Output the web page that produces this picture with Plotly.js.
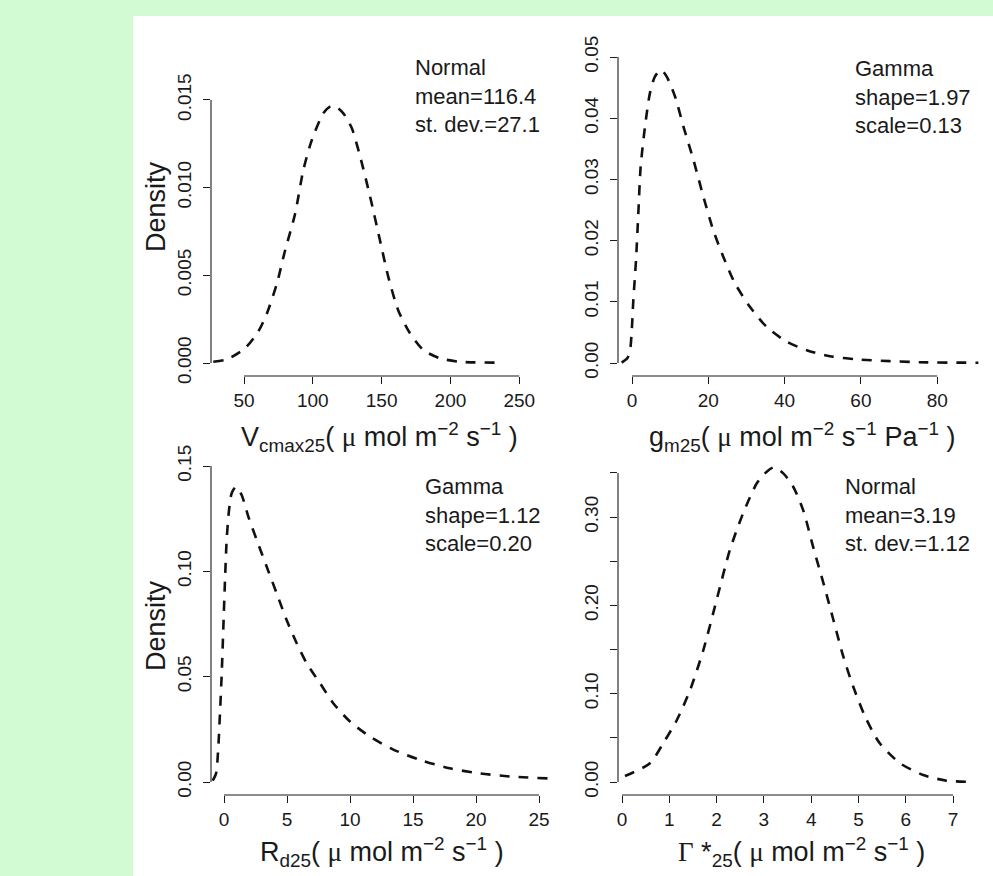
<!DOCTYPE html>
<html>
<head>
<meta charset="utf-8">
<script src="https://cdn.plot.ly/plotly-3.0.1.min.js"></script>
<style>html,body{margin:0;padding:0;background:#d3fbd3;}#chart{width:993px;height:876px;}</style>
</head>
<body>
<div id="chart"></div>
<script>
// ---- data ----
const vcmaxX = [27.7, 37.4, 50.7, 60.4, 66.5, 73.8, 79.8, 87.1, 93.1, 99.2, 107.6, 112.5, 116.0, 122.2, 128.3, 134.3, 141.6, 148.8, 154.9, 162.1, 170.6, 180.3, 192.4, 207.0, 233.6];
const vcmaxY = [0.00007, 0.0002, 0.00084, 0.0018, 0.0028, 0.0045, 0.0064, 0.0085, 0.0110, 0.0127, 0.01424, 0.01462, 0.01466, 0.01424, 0.0134, 0.0118, 0.0095, 0.0070, 0.0049, 0.0030, 0.0017, 0.00074, 0.00027, 0.00007, 0.00002];

const gmX = [-2.7, -1.2, -0.5, -0.1, 0.35, 1.05, 1.66, 2.27, 3.4, 4.7, 6.0, 7.6, 9.1, 11.3, 13.5, 16.1, 18.7, 21.3, 23.9, 27.0, 30.9, 35.3, 40.5, 45.8, 51.9, 58.9, 67.6, 77.2, 90.8];
const gmY = [0.00005, 0.0008, 0.0021, 0.0049, 0.0103, 0.0168, 0.0245, 0.0321, 0.0386, 0.0441, 0.0468, 0.0479, 0.0468, 0.0435, 0.0386, 0.0332, 0.0272, 0.0217, 0.0174, 0.0130, 0.0092, 0.0059, 0.0035, 0.0021, 0.0011, 0.0006, 0.0003, 0.0001, 0.00005];

const rdX = [-0.9, -0.63, -0.45, -0.32, -0.18, -0.05, 0.08, 0.21, 0.4, 0.61, 0.95, 1.4, 1.93, 2.6, 3.39, 4.18, 4.97, 5.77, 6.56, 7.62, 8.67, 10.0, 11.6, 13.4, 15.6, 17.9, 20.3, 22.96, 25.7];
const rdY = [0.0006, 0.0041, 0.0168, 0.0326, 0.0516, 0.0738, 0.0959, 0.1149, 0.1292, 0.1371, 0.1402, 0.1363, 0.1260, 0.1149, 0.1022, 0.0896, 0.0769, 0.0659, 0.0564, 0.0469, 0.0374, 0.0287, 0.0215, 0.0155, 0.0104, 0.0065, 0.0041, 0.0025, 0.0017];

const gsX = [0.063, 0.59, 0.87, 1.16, 1.44, 1.72, 2.0, 2.28, 2.56, 2.85, 3.06, 3.21, 3.41, 3.62, 3.83, 4.04, 4.26, 4.47, 4.68, 4.89, 5.14, 5.45, 5.88, 6.37, 6.86, 7.46];
const gsY = [0.0068, 0.0212, 0.0438, 0.0702, 0.1042, 0.1495, 0.2061, 0.2627, 0.3043, 0.3383, 0.3515, 0.3564, 0.3496, 0.3344, 0.3080, 0.2665, 0.2250, 0.1835, 0.1419, 0.1079, 0.0740, 0.0438, 0.0212, 0.0079, 0.0015, 0.0];

// tick values / labels
const x1Ticks = [50, 100, 150, 200, 250];
const y1Ticks = [0.000, 0.005, 0.010, 0.015];
const y1Labels = ["0.000", "0.005", "0.010", "0.015"];
const x2Ticks = [0, 20, 40, 60, 80];
const y2Ticks = [0.00, 0.01, 0.02, 0.03, 0.04, 0.05];
const y2Labels = ["0.00", "0.01", "0.02", "0.03", "0.04", "0.05"];
const x3Ticks = [0, 5, 10, 15, 20, 25];
const y3Ticks = [0.00, 0.05, 0.10, 0.15];
const y3Labels = ["0.00", "0.05", "0.10", "0.15"];
const x4Ticks = [0, 1, 2, 3, 4, 5, 6, 7];
const y4Ticks = [0.00, 0.05, 0.10, 0.15, 0.20, 0.25, 0.30, 0.35];
const y4Labels = ["0.00", "", "0.10", "", "0.20", "", "0.30", ""];

const legend1 = ["Normal", "mean=116.4", "st. dev.=27.1"];
const legend2 = ["Gamma", "shape=1.97", "scale=0.13"];
const legend3 = ["Gamma", "shape=1.12", "scale=0.20"];
const legend4 = ["Normal", "mean=3.19", "st. dev.=1.12"];

const MU = '<span style="font-family:\'Liberation Serif\',\'DejaVu Serif\',serif">\u03bc</span>';
const GAM = '<span style="font-family:\'Liberation Serif\',\'DejaVu Serif\',serif">\u0393</span>';
const title1 = 'V<sub>cmax25</sub>( ' + MU + ' mol m<sup>\u22122</sup> s<sup>\u22121</sup> )';
const title2 = 'g<sub>m25</sub>( ' + MU + ' mol m<sup>\u22122</sup> s<sup>\u22121</sup> Pa<sup>\u22121</sup> )';
const title3 = 'R<sub>d25</sub>( ' + MU + ' mol m<sup>\u22122</sup> s<sup>\u22121</sup> )';
const title4 = GAM + ' *<sub>25</sub>( ' + MU + ' mol m<sup>\u22122</sup> s<sup>\u22121</sup> )';

// ---- layout helpers ----
const W = 993, H = 876;
const px = v => v / W;
const py = v => 1 - v / H;
const INK = '#1a1a1a';
const FONT = '"Liberation Sans", Arial, Helvetica, sans-serif';

function lineTrace(x, y, xa, ya) {
  return {x: x, y: y, xaxis: xa, yaxis: ya, type: 'scatter', mode: 'lines',
    line: {color: '#111', width: 2.6, dash: '10px,9px', shape: 'spline', smoothing: 0.7},
    hoverinfo: 'skip', showlegend: false};
}

function xAxis(dom, range, ticks, anchor) {
  return {domain: dom, range: range, anchor: anchor, tickmode: 'array', tickvals: ticks,
    ticktext: ticks.map(String), ticks: 'outside', ticklen: 7, tickwidth: 1, tickcolor: INK,
    showline: false, showgrid: false, zeroline: false, ticklabelstandoff: 0,
    tickfont: {family: FONT, size: 19, color: INK}, fixedrange: true};
}
function yAxis(dom, range, ticks, labels, anchor) {
  return {domain: dom, range: range, anchor: anchor, tickmode: 'array', tickvals: ticks,
    ticktext: labels, ticks: 'outside', ticklen: 7, tickwidth: 1, tickcolor: INK,
    showline: false, showgrid: false, zeroline: false, tickangle: -90, ticklabelstandoff: 4,
    tickfont: {family: FONT, size: 19, color: INK}, fixedrange: true};
}

function axisLines(xr, yr, xT, yT) {
  return [
    {type: 'line', xref: xr, yref: yr + ' domain', x0: xT[0], x1: xT[xT.length - 1], y0: 0, y1: 0,
      line: {color: INK, width: 1.1}},
    {type: 'line', xref: xr + ' domain', yref: yr, x0: 0, x1: 0, y0: yT[0], y1: yT[yT.length - 1],
      line: {color: INK, width: 1.1}}
  ];
}

function textBlock(lines, x, y) {
  return {xref: 'paper', yref: 'paper', x: px(x), y: py(y), xanchor: 'left', yanchor: 'middle',
    align: 'left', showarrow: false, text: lines.join('<br>'),
    font: {family: FONT, size: 22, color: INK}};
}
function titleAnn(text, x, y, angle) {
  return {xref: 'paper', yref: 'paper', x: px(x), y: py(y), xanchor: 'center', yanchor: 'middle',
    showarrow: false, text: text, textangle: angle || 0,
    font: {family: FONT, size: 27, color: INK}};
}

const data = [
  lineTrace(vcmaxX, vcmaxY, 'x', 'y'),
  lineTrace(gmX, gmY, 'x2', 'y2'),
  lineTrace(rdX, rdY, 'x3', 'y3'),
  lineTrace(gsX, gsY, 'x4', 'y4')
];

const layout = {
  width: W, height: H,
  margin: {l: 0, r: 0, t: 0, b: 0, pad: 0},
  paper_bgcolor: '#d3fbd3',
  plot_bgcolor: 'rgba(0,0,0,0)',
  showlegend: false,
  font: {family: FONT, color: INK},
  xaxis: xAxis([px(211), px(540)], [26.02, 265.1], x1Ticks, 'y'),
  yaxis: yAxis([py(376), py(60)], [-0.000741, 0.01728], y1Ticks, y1Labels, 'x'),
  xaxis2: xAxis([px(618), 1], [-3.67, 94.63], x2Ticks, 'y2'),
  yaxis2: yAxis([py(376), py(40)], [-0.002124, 0.05278], y2Ticks, y2Labels, 'x2'),
  xaxis3: xAxis([px(211), px(550)], [-1.032, 25.87], x3Ticks, 'y3'),
  yaxis3: yAxis([py(795), py(460)], [-0.00617, 0.1529], y3Ticks, y3Labels, 'x3'),
  xaxis4: xAxis([px(618), 1], [-0.0846, 7.844], x4Ticks, 'y4'),
  yaxis4: yAxis([py(795), py(460)], [-0.01472, 0.3647], y4Ticks, y4Labels, 'x4'),
  shapes: [
    {type: 'rect', xref: 'paper', yref: 'paper', x0: px(133), x1: 1, y0: 0, y1: py(16),
      fillcolor: '#ffffff', line: {width: 0}, layer: 'below'}
  ].concat(axisLines('x', 'y', x1Ticks, y1Ticks), axisLines('x2', 'y2', x2Ticks, y2Ticks),
           axisLines('x3', 'y3', x3Ticks, y3Ticks), axisLines('x4', 'y4', x4Ticks, y4Ticks)),
  annotations: [
    textBlock(legend1, 413, 96),
    textBlock(legend2, 853, 97),
    textBlock(legend3, 423, 515),
    textBlock(legend4, 843, 515),
    titleAnn(title1, 379, 437),
    titleAnn(title2, 802, 437),
    titleAnn(title3, 382, 852),
    titleAnn(title4, 801, 852),
    titleAnn('Density', 156, 207, -90),
    titleAnn('Density', 156, 626, -90)
  ]
};

Plotly.newPlot('chart', data, layout, {displayModeBar: false, staticPlot: true});
</script>
</body>
</html>
